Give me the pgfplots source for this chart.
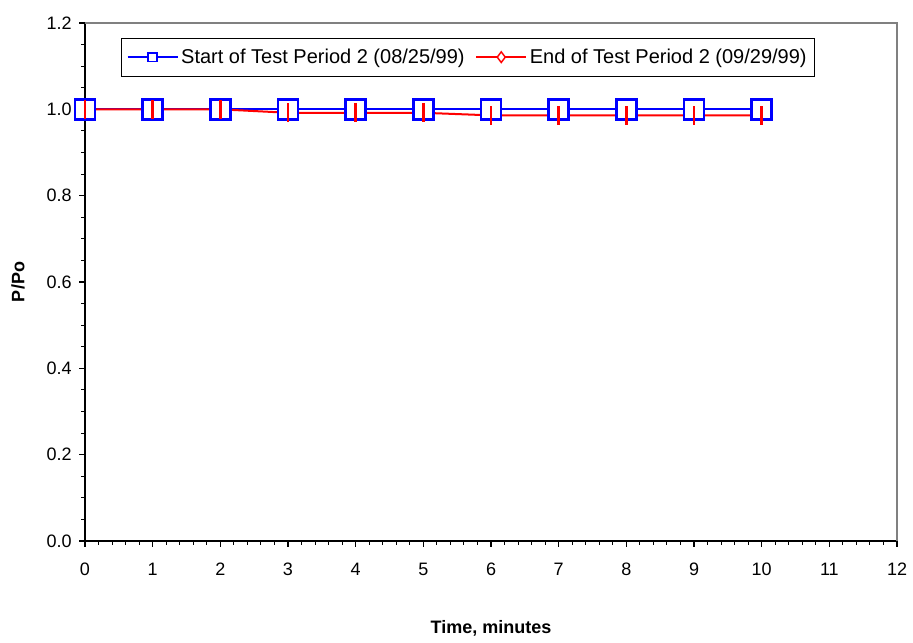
\documentclass[border=0pt]{standalone}
\usepackage{fontspec}
\setmainfont{Liberation Sans}
\usepackage{pgfplots}
\pgfplotsset{compat=1.18}
\begin{document}
\begin{tikzpicture}
\path[use as bounding box] (0,0) rectangle (684.75pt,481.5pt);
\begin{axis}[
  at={(63.75pt,75.75pt)}, anchor=south west,
  scale only axis, width=609pt, height=388.5pt,
  xmin=0, xmax=12, ymin=0, ymax=1.2,
  axis x line*=bottom, axis y line*=left,
  axis line style={black, line width=0.8pt},
  xtick={0,1,...,12}, ytick={0,0.2,...,1.2},
  minor x tick num=4, minor y tick num=3,
  tick align=outside,
  major tick length=4.5pt, minor tick length=3pt,
  tick style={black, line width=0.8pt},
  font=\fontsize{13.5}{15}\selectfont,
  /pgf/number format/assume math mode=true,
  yticklabel style={/pgf/number format/fixed, /pgf/number format/fixed zerofill, /pgf/number format/precision=1, xshift=-2pt},
  xticklabel style={yshift=-8.5pt},
  xlabel={\bfseries Time, minutes},
  ylabel={\bfseries P/Po},
  xlabel style={at={(axis description cs:0.5,-0.168)}, anchor=center},
  ylabel style={at={(axis description cs:-0.0825,0.5)}, anchor=center},
  legend columns=2,
  legend style={at={(axis description cs:0.4717,0.934)}, anchor=center,
    draw=black, line width=0.6pt, font=\fontsize{15}{17}\selectfont,
    inner xsep=4pt, inner ysep=6pt,
    /tikz/every even column/.append style={column sep=6pt}},
  legend image code/.code={
    \draw[#1, mark repeat=2, mark phase=2] plot coordinates {(0cm,0cm) (0.66cm,0cm) (1.32cm,0cm)};},
  clip=false,
]
\addplot[draw=blue, line width=1.5pt, mark=square*, mark size=7.5pt,
  mark options={fill=white, draw=blue, line width=1.8pt}, forget plot]
  coordinates {(0,1.0) (1,1.0) (2,1.0) (3,1.0) (4,1.0) (5,1.0) (6,1.0) (7,1.0) (8,1.0) (9,1.0) (10,1.0)};
\addplot[draw=red, line width=1.5pt, mark=|, mark size=7pt,
  mark options={draw=red, line width=2.2pt}, forget plot]
  coordinates {(0,1.0) (1,1.0) (2,1.0) (3,0.992) (4,0.992) (5,0.992) (6,0.986) (7,0.986) (8,0.986) (9,0.986) (10,0.986)};
\addlegendimage{draw=blue, line width=1.3pt, mark=square*, mark size=3.2pt, mark options={fill=white, draw=blue, line width=1.3pt}}
\addlegendentry{Start of Test Period 2 (08/25/99)}
\addlegendimage{draw=red, line width=1.3pt, mark=diamond*, mark size=4pt, mark options={fill=white, draw=red, line width=1.1pt}}
\addlegendentry{End of Test Period 2 (09/29/99)}
\draw[gray, line width=0.8pt] (rel axis cs:0,1) -- (rel axis cs:1,1) -- (rel axis cs:1,0);
\end{axis}
\end{tikzpicture}
\end{document}
